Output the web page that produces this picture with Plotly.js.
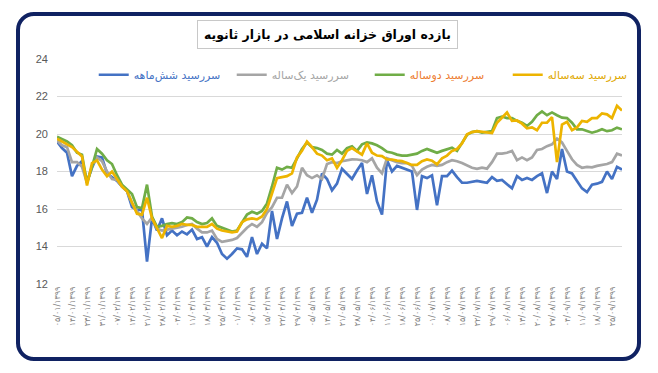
<!DOCTYPE html>
<html><head><meta charset="utf-8">
<script src="https://cdn.plot.ly/plotly-3.0.1.min.js"></script>
<style>
html,body{margin:0;padding:0;background:#fff;width:658px;height:373px;overflow:hidden;}
#frame{position:absolute;left:16px;top:12px;width:617px;height:341px;border:4px solid #102262;border-radius:18px;}
#chart{position:absolute;left:0;top:0;width:658px;height:373px;}
</style></head><body>
<div id="frame"></div><div id="chart"></div>
<script>
// Tick labels (every 3rd point), Persian dates
const tickLabels = ["۰۵/۰۱/۱۳۹۹","۱۴/۰۱/۱۳۹۹","۲۳/۰۱/۱۳۹۹","۳۱/۰۱/۱۳۹۹","۰۷/۰۲/۱۳۹۹","۱۴/۰۲/۱۳۹۹","۲۱/۰۲/۱۳۹۹","۲۸/۰۲/۱۳۹۹",
"۰۴/۰۳/۱۳۹۹","۱۱/۰۳/۱۳۹۹","۱۸/۰۳/۱۳۹۹","۲۵/۰۳/۱۳۹۹","۰۱/۰۴/۱۳۹۹","۰۸/۰۴/۱۳۹۹","۱۵/۰۴/۱۳۹۹","۲۲/۰۴/۱۳۹۹","۲۹/۰۴/۱۳۹۹",
"۰۵/۰۵/۱۳۹۹","۱۴/۰۵/۱۳۹۹","۲۱/۰۵/۱۳۹۹","۲۸/۰۵/۱۳۹۹","۰۴/۰۶/۱۳۹۹","۱۱/۰۶/۱۳۹۹","۱۸/۰۶/۱۳۹۹","۲۵/۰۶/۱۳۹۹",
"۰۱/۰۷/۱۳۹۹","۰۸/۰۷/۱۳۹۹","۱۵/۰۷/۱۳۹۹","۲۲/۰۷/۱۳۹۹","۲۹/۰۷/۱۳۹۹","۰۶/۰۸/۱۳۹۹","۱۳/۰۸/۱۳۹۹","۲۰/۰۸/۱۳۹۹","۲۷/۰۸/۱۳۹۹",
"۰۴/۰۹/۱۳۹۹","۱۱/۰۹/۱۳۹۹","۱۸/۰۹/۱۳۹۹","۲۵/۰۹/۱۳۹۹"];
const labelStep = 3;

const seriesNames = ["سررسید شش‌ماهه","سررسید یک‌ساله","سررسید دوساله","سررسید سه‌ساله"];

const sixMonth = [19.6,19.25,19.0,17.75,18.3,18.55,17.45,18.2,18.8,18.75,
17.9,17.7,17.5,17.2,16.95,16.1,15.95,15.95,13.2,15.5,
14.85,15.5,14.6,14.85,14.6,14.8,14.65,14.9,14.4,14.5,
14.0,14.5,14.2,13.6,13.35,13.6,13.9,13.85,13.45,14.5,
13.6,14.15,13.9,15.9,14.4,15.5,16.4,15.1,15.75,15.8,
16.6,15.8,16.5,17.9,17.6,17.0,17.35,18.15,17.85,17.6,
18.05,18.45,16.8,17.8,16.4,15.7,18.6,18.0,18.3,18.2,
18.1,18.0,15.95,17.75,17.65,17.8,16.2,17.75,17.75,18.05,
17.7,17.4,17.4,17.45,17.5,17.45,17.4,17.7,17.5,17.55,
17.3,17.1,17.75,17.55,17.65,17.55,17.75,17.9,16.85,18.0,
17.6,19.2,18.0,17.9,17.5,17.1,16.9,17.3,17.35,17.45,
18.0,17.6,18.25,18.1];

const oneYear = [19.65,19.4,19.3,18.5,18.5,18.25,17.4,18.3,18.75,18.55,
18.0,17.6,17.55,17.2,17.0,16.3,15.9,15.5,15.2,15.55,
14.95,14.85,14.9,14.95,15.0,15.05,15.15,15.2,14.95,14.75,
14.75,14.85,14.4,14.25,14.3,14.35,14.45,14.75,15.0,15.2,
15.05,15.3,15.8,16.1,16.6,16.6,17.3,16.85,17.2,18.2,
17.8,17.65,17.8,17.6,18.4,18.5,18.45,18.55,18.62,18.65,
18.64,18.6,18.5,18.7,18.2,17.9,18.7,18.6,18.5,18.45,
18.45,18.3,17.8,18.1,18.25,18.35,18.3,18.35,18.5,18.6,
18.55,18.45,18.32,18.2,18.14,18.2,18.15,18.5,18.95,18.95,
19.0,19.1,18.6,18.75,18.6,18.75,19.15,19.2,19.35,19.45,
19.75,19.55,19.1,18.65,18.35,18.2,18.25,18.22,18.3,18.35,
18.4,18.5,18.95,18.85];

const twoYear = [19.85,19.72,19.6,19.4,19.0,18.9,17.4,18.25,19.2,18.95,
18.6,18.4,17.8,17.3,17.05,16.8,16.1,16.05,17.3,15.6,
15.05,15.1,15.2,15.25,15.2,15.3,15.55,15.5,15.3,15.2,
15.25,15.5,15.1,15.0,14.9,14.8,14.85,15.3,15.7,15.85,
15.75,15.9,16.3,17.2,18.2,18.1,18.25,18.2,18.7,19.2,
19.55,19.3,19.25,19.15,18.95,18.9,19.15,18.95,19.25,19.35,
19.1,19.45,19.55,19.5,19.4,19.25,19.05,19.0,18.9,18.85,
18.85,18.9,18.95,19.1,19.2,19.1,19.0,19.1,19.2,19.27,
19.1,19.55,19.95,20.1,20.15,20.07,20.1,20.15,20.85,20.93,
20.85,20.85,20.7,20.6,20.43,20.65,21.0,21.2,21.0,21.15,
21.0,20.87,20.85,20.6,20.25,20.25,20.16,20.07,20.15,20.25,
20.15,20.2,20.34,20.25];

const threeYear = [19.75,19.6,19.45,19.3,19.05,18.8,17.25,18.45,18.6,18.1,
17.75,18.0,17.6,17.2,16.95,16.3,15.75,15.7,16.6,15.5,
15.0,14.45,15.1,15.05,15.1,15.2,15.15,15.15,15.05,15.05,
15.05,15.2,14.95,14.85,14.8,14.75,14.8,15.3,15.45,15.5,
15.45,15.6,16.0,16.8,17.65,17.7,17.75,17.9,18.75,19.1,
19.6,19.3,18.95,18.85,18.6,18.7,18.2,18.6,19.1,19.25,
19.05,18.9,19.5,19.0,18.85,18.82,18.65,18.64,18.58,18.55,
18.45,18.35,18.35,18.55,18.64,18.58,18.38,18.7,18.85,19.1,
19.2,19.5,19.98,20.1,20.15,20.12,20.08,20.05,20.6,20.9,
21.15,20.7,20.72,20.55,20.3,20.35,20.2,20.6,20.6,20.9,
18.5,20.5,20.65,20.2,20.35,20.7,20.65,20.85,20.85,21.1,
21.05,20.85,21.5,21.25];

const lineColors = ["#4472C4","#A5A5A5","#70AD47","#EDB400"];
const textColors = ["#4472C4","#A5A5A5","#ED7D31","#E0A800"];
const allSeries = [sixMonth, oneYear, twoYear, threeYear];

const xIdx = sixMonth.map((_, i) => i);
const tickvals = tickLabels.map((_, k) => k * labelStep);

const traces = allSeries.map((ys, s) => ({
  type: 'scatter', mode: 'lines', x: xIdx, y: ys,
  name: '<span style="color:' + textColors[s] + '">' + seriesNames[s] + '</span>',
  line: {color: lineColors[s], width: 2.7},
  hoverinfo: 'skip'
}));

const layout = {
  width: 658, height: 373,
  margin: {l: 57, r: 36, t: 59, b: 89},
  paper_bgcolor: 'rgba(0,0,0,0)', plot_bgcolor: 'rgba(0,0,0,0)',
  showlegend: true,
  legend: {orientation: 'h', x: 0.065, y: 0.93, xanchor: 'left', yanchor: 'middle',
    font: {family: 'DejaVu Sans', size: 11}, entrywidth: 93, entrywidthmode: 'pixels',
    itemwidth: 30, bgcolor: 'rgba(0,0,0,0)'},
  xaxis: {range: [0, xIdx.length - 1], tickmode: 'array', tickvals: tickvals, ticktext: tickLabels,
    tickangle: -90, tickfont: {family: 'DejaVu Sans', size: 8, color: '#7f7f7f'},
    showgrid: false, zeroline: false, showline: false, ticks: '', fixedrange: true},
  yaxis: {range: [12, 24], tick0: 12, dtick: 2, gridcolor: '#d9d9d9', gridwidth: 1,
    zeroline: false, showline: false, ticks: '', ticklabelstandoff: 8,
    tickfont: {family: 'Liberation Sans', size: 11, color: '#595959'}, fixedrange: true},
  annotations: [{
    xref: 'paper', yref: 'paper', x: 0.478, y: 1.111, xanchor: 'center', yanchor: 'middle',
    text: '<b>بازده اوراق خزانه اسلامی در بازار ثانویه</b>', showarrow: false,
    font: {family: 'DejaVu Sans', size: 12.5, color: '#000'},
    bordercolor: '#c8c8c8', borderwidth: 1, borderpad: 6, bgcolor: '#fff'
  }]
};

Plotly.newPlot('chart', traces, layout, {displayModeBar: false, staticPlot: true});
</script></body></html>
